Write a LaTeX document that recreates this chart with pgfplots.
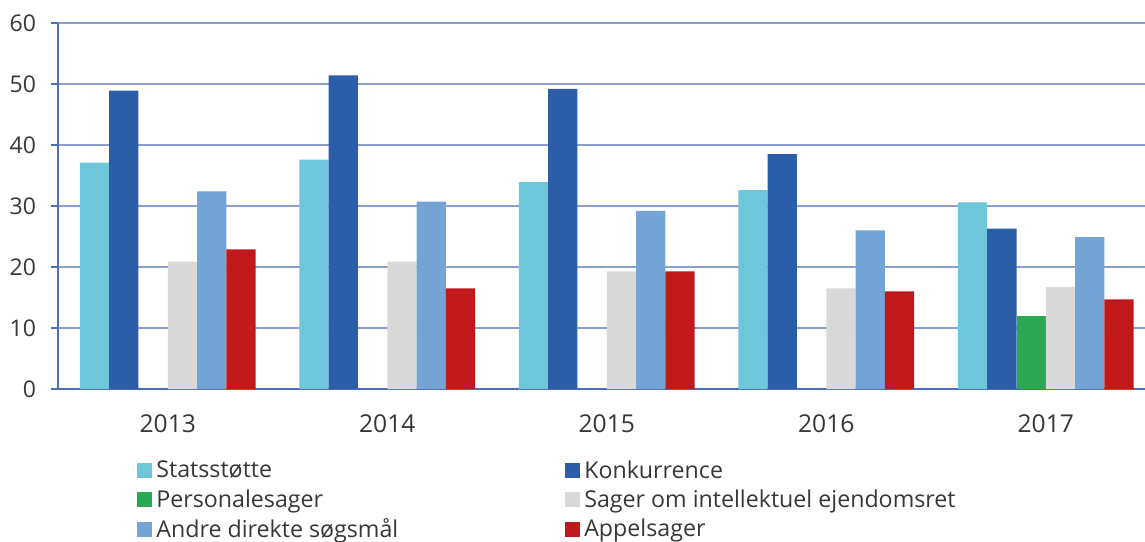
\documentclass[border=0pt]{standalone}
\usepackage{pgfplots}
\pgfplotsset{compat=1.18}
\usepackage{fontspec}
\setmainfont{Open Sans}
\definecolor{cStats}{RGB}{109,198,218}
\definecolor{cKonk}{RGB}{43,93,168}
\definecolor{cPers}{RGB}{42,168,83}
\definecolor{cSager}{RGB}{217,217,217}
\definecolor{cAndre}{RGB}{116,163,214}
\definecolor{cAppel}{RGB}{192,25,27}
\definecolor{cGrid}{RGB}{140,158,206}
\definecolor{cAxis}{RGB}{80,108,182}
\definecolor{cText}{RGB}{55,55,55}
\begin{document}
\begin{tikzpicture}
\begin{axis}[
  scale only axis,
  width=543.5pt, height=183pt,
  xmin=-0.5, xmax=4.452,
  ymin=0, ymax=60,
  ytick={0,10,...,60},
  ybar=0pt, bar width=14.65pt,
  axis x line*=bottom, axis y line*=left,
  axis line style={cAxis, line width=0.8pt, -},
  ymajorgrids, grid style={cGrid, line width=0.8pt},
  ytick style={cAxis, line width=0.8pt},
  major tick length=3.5pt, tick align=outside,
  xtick={0,1,2,3,4},
  xticklabels={2013,2014,2015,2016,2017},
  x tick style={draw=none},
  extra x ticks={-0.5,0.5,1.5,2.5,3.5},
  extra x tick labels={},
  extra x tick style={tick style={draw=cAxis, line width=0.8pt}, major tick length=5pt},
  ticklabel style={font=\fontsize{11.5}{13}\selectfont, text=cText},
  xticklabel style={font=\fontsize{12.3}{14}\selectfont, yshift=-6pt},
  yticklabel style={xshift=-4pt},
  /pgf/number format/assume math mode=true,
  clip=true,
  legend columns=2,
  legend cell align=left,
  legend style={at={(0,0)}, anchor=north west, xshift=39.5pt, yshift=-33.5pt,
    draw=none, fill=none, inner sep=0pt, row sep=0.2pt,
    font=\fontsize{11.6}{13}\selectfont, text=cText,
    /tikz/every even column/.append style={column sep=81.5pt}},
  legend image code/.code={\fill[#1,draw=none] (0pt,-3.75pt) rectangle (7.5pt,3.75pt);},
]
\addplot[fill=cStats, draw=none] coordinates {(0,37.1) (1,37.6) (2,33.9) (3,32.6) (4,30.6)};
\addlegendentry{Statsstøtte}
\addplot[fill=cKonk, draw=none] coordinates {(0,48.9) (1,51.4) (2,49.2) (3,38.5) (4,26.3)};
\addlegendentry{Konkurrence}
\addplot[fill=cPers, draw=none] coordinates {(4,11.9)};
\addlegendentry{Personalesager}
\addplot[fill=cSager, draw=none] coordinates {(0,20.9) (1,20.9) (2,19.3) (3,16.5) (4,16.7)};
\addlegendentry{Sager om intellektuel ejendomsret}
\addplot[fill=cAndre, draw=none] coordinates {(0,32.4) (1,30.7) (2,29.2) (3,26.0) (4,24.9)};
\addlegendentry{Andre direkte søgsmål}
\addplot[fill=cAppel, draw=none] coordinates {(0,22.9) (1,16.5) (2,19.3) (3,16.0) (4,14.7)};
\addlegendentry{Appelsager}
\end{axis}
\pgfresetboundingbox
\path[use as bounding box] (-29pt,-76pt) rectangle (543.5pt,194.5pt);
\end{tikzpicture}
\end{document}
